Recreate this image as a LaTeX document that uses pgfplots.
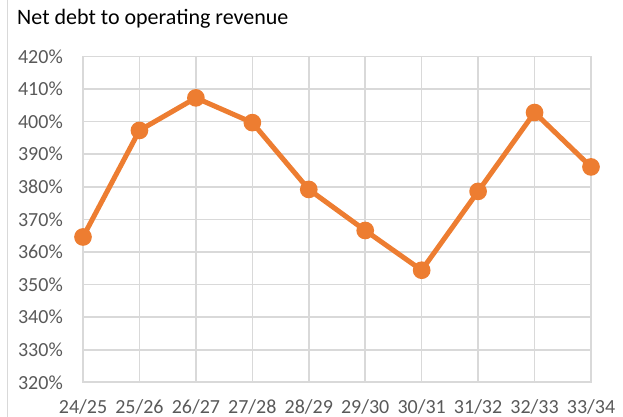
\documentclass[border=0pt]{standalone}
\usepackage{pgfplots}
\pgfplotsset{compat=1.18}
\usepackage{fontspec}
\setmainfont{Carlito}
\definecolor{lineorange}{HTML}{ED7D31}
\definecolor{gridgray}{HTML}{D9D9D9}
\definecolor{labelgray}{HTML}{595959}
\begin{document}
\begin{tikzpicture}
\useasboundingbox (0,0) rectangle (623bp,417bp);
\draw[gridgray, line width=1.5bp] (7.5bp,0) -- (7.5bp,417bp);
\node[anchor=base west, inner sep=0pt, font=\fontsize{22bp}{26bp}\selectfont, text=black] at (17bp,392bp) {Net debt to operating revenue};
\begin{axis}[
  at={(83bp,34.7bp)}, anchor=south west,
  scale only axis, width=508bp, height=325.8bp,
  xmin=0, xmax=9, ymin=320, ymax=420,
  xtick={0,...,9},
  xticklabels={24/25,25/26,26/27,27/28,28/29,29/30,30/31,31/32,32/33,33/34},
  ytick={320,330,...,420},
  yticklabel={\pgfmathparse{int(round(\tick))}\pgfmathresult\%},
  ticklabel style={font=\fontsize{20bp}{24bp}\selectfont, text=labelgray},
  xticklabel style={anchor=north, inner sep=0pt, yshift=-17bp},
  yticklabel style={anchor=east, inner sep=0pt, xshift=-20bp},
  major tick length=0pt,
  grid=major,
  grid style={gridgray, line width=1.6bp},
  axis line style={gridgray, line width=1.6bp},
  clip=false,
]
\addplot[lineorange, line width=5bp, mark=*, mark size=6.3bp,
  mark options={solid, fill=lineorange, draw=none}]
  coordinates {
  (0,364.6) (1,397.3) (2,407.3) (3,399.7) (4,379.2)
  (5,366.6) (6,354.4) (7,378.6) (8,402.8) (9,386.1)
  };
\end{axis}
\end{tikzpicture}
\end{document}
